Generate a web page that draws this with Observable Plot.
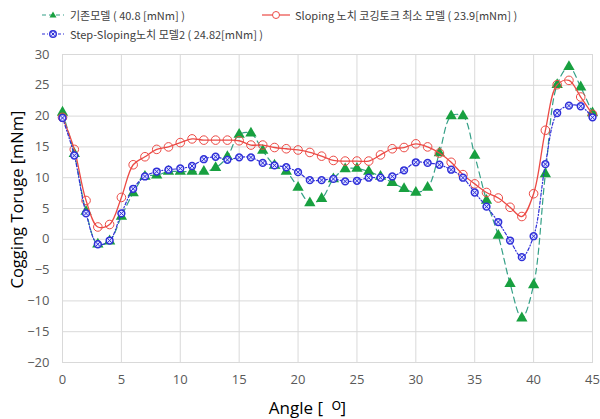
<!DOCTYPE html>
<html>
<head>
<meta charset="utf-8">
<script src="https://cdn.jsdelivr.net/npm/d3@7"></script>
<script src="https://cdn.jsdelivr.net/npm/@observablehq/plot@0.6"></script>
<style>
  body { margin: 0; background: #fff; font-family: "Open Sans", "Noto Sans CJK KR", sans-serif; }
  #wrap { position: relative; width: 600px; height: 419px; }
  #legend { position: relative; width: 600px; height: 44px; font-family: "Noto Sans CJK KR", sans-serif; font-size: 11px; color: #404040; }
  .item { position: absolute; display: flex; align-items: center; white-space: nowrap; }
  .item svg { margin-right: 5px; }
</style>
</head>
<body>
<div id="wrap">
  <div id="legend"></div>
  <div id="chart"></div>
</div>
<script>
const angles = [0,1,2,3,4,5,6,7,8,9,10,11,12,13,14,15,16,17,18,19,20,21,22,23,24,25,26,27,28,29,30,31,32,33,34,35,36,37,38,39,40,41,42,43,44,45];
const seriesNames = ["기존모델 ( 40.8 [mNm] )", "Sloping 노치 코깅토크 최소 모델 ( 23.9[mNm] )", "Step-Sloping노치 모델2 ( 24.82[mNm] )"];
const baseModel = [20.6,13.9,4.5,-0.8,-0.3,3.7,7.5,10.2,10.4,11.0,11.0,11.0,11.0,11.6,13.4,17.0,17.2,14.4,12.0,11.0,8.4,5.9,6.6,9.8,11.4,11.5,11.0,10.2,9.2,8.2,7.6,8.4,14.0,20.0,20.0,13.6,6.3,0.6,-7.2,-12.8,-7.4,10.6,25.1,28.0,24.7,20.5];
const slopingModel = [19.8,14.6,6.3,2.0,2.4,6.8,12.1,13.4,14.6,15.0,15.7,16.3,16.1,16.1,16.1,16.0,15.3,15.3,14.9,14.7,14.5,14.1,13.5,12.8,12.7,12.7,12.7,13.7,14.7,14.9,15.5,15.0,14.0,12.5,10.5,9.0,7.6,6.7,5.2,3.7,7.4,17.7,25.1,25.8,23.1,20.3];
const stepSlopingModel = [19.7,13.6,4.2,-0.8,-0.2,4.2,8.2,10.2,11.0,11.3,11.5,11.9,13.0,13.4,12.9,13.3,13.3,12.4,12.0,11.7,10.9,9.6,9.6,9.8,9.4,9.5,10.0,10.0,10.2,11.2,12.5,12.4,12.1,11.3,10.0,7.6,5.3,2.8,-0.2,-2.9,0.5,12.2,20.5,21.7,21.6,19.8];
const xTicks = [0,5,10,15,20,25,30,35,40,45];
const yTicks = [-20,-15,-10,-5,0,5,10,15,20,25,30];
const xTitle = "Angle [  ᴼ]";
const yTitle = "Cogging Toruge [mNm]";

const green = angles.map((a, i) => ({x: a, y: baseModel[i]}));
const red = angles.map((a, i) => ({x: a, y: slopingModel[i]}));
const blue = angles.map((a, i) => ({x: a, y: stepSlopingModel[i]}));

const cGreenLine = "#35a087", cGreen = "#18a040", cRed = "#ec4a45", cBlue = "#2f2fd8";

// legend
const legend = document.getElementById("legend");
function addItem(left, top, sym, label) {
  const d = document.createElement("div");
  d.className = "item";
  d.style.left = left + "px";
  d.style.top = top + "px";
  d.innerHTML = sym + "<span>" + label + "</span>";
  legend.appendChild(d);
}
const gSym = `<svg width="24" height="12"><line x1="1" y1="6" x2="23" y2="6" stroke="${cGreenLine}" stroke-width="1.2" stroke-dasharray="4,3"/><path d="M12,2.5 L15.5,8.5 L8.5,8.5Z" fill="${cGreen}"/></svg>`;
const rSym = `<svg width="28" height="12"><line x1="0" y1="6" x2="28" y2="6" stroke="${cRed}" stroke-width="1.2"/><circle cx="14" cy="6" r="3.5" fill="white" stroke="${cRed}" stroke-width="1"/></svg>`;
const bSym = `<svg width="24" height="12"><line x1="1" y1="6" x2="23" y2="6" stroke="${cBlue}" stroke-width="1.2" stroke-dasharray="3,2,1,2"/><circle cx="12" cy="6" r="3.3" fill="#dfe2ff" stroke="${cBlue}" stroke-width="1.4"/><path d="M10.3,4.3 L13.7,7.7 M13.7,4.3 L10.3,7.7" stroke="${cBlue}" stroke-width="1"/></svg>`;
addItem(41, 7, gSym, seriesNames[0]);
addItem(262, 7, rSym, seriesNames[1]);
addItem(41, 26, bSym, seriesNames[2]);

const chart = Plot.plot({
  width: 600,
  height: 375,
  marginTop: 10,
  marginBottom: 57,
  marginLeft: 62,
  marginRight: 8,
  style: {fontFamily: "'Open Sans', sans-serif", fontSize: "13px", color: "#595959", background: "white"},
  x: {domain: [0, 45]},
  y: {domain: [-20, 30]},
  marks: [
    Plot.gridX(xTicks, {stroke: "#d9d9d9", strokeOpacity: 1}),
    Plot.gridY(yTicks, {stroke: "#d9d9d9", strokeOpacity: 1}),
    Plot.frame({stroke: "#d9d9d9"}),
    Plot.axisX(xTicks, {tickSize: 0, tickPadding: 12, label: null}),
    Plot.axisY(yTicks, {tickSize: 0, tickPadding: 13, label: null}),
    Plot.text([xTitle], {frameAnchor: "bottom", dx: -20, dy: 46, lineAnchor: "middle", textAnchor: "middle", fontSize: 17, fill: "#000"}),
    Plot.text([yTitle], {frameAnchor: "left", rotate: -90, dx: -45, dy: -9, lineAnchor: "middle", textAnchor: "middle", fontSize: 16.5, fill: "#000"}),
    Plot.line(green, {x: "x", y: "y", curve: "catmull-rom", stroke: cGreenLine, strokeWidth: 1.2, strokeDasharray: "6,4"}),
    Plot.dot(green, {x: "x", y: "y", symbol: "triangle", r: 4.2, fill: cGreen, stroke: "none"}),
    Plot.line(red, {x: "x", y: "y", curve: "catmull-rom", stroke: cRed, strokeWidth: 1.3}),
    Plot.dot(red, {x: "x", y: "y", r: 4.3, fill: "none", stroke: cRed, strokeWidth: 1}),
    Plot.line(blue, {x: "x", y: "y", curve: "catmull-rom", stroke: cBlue, strokeWidth: 1.2, strokeDasharray: "3,2,1,2"}),
    Plot.dot(blue, {x: "x", y: "y", r: 3.4, fill: "#dfe2ff", stroke: cBlue, strokeWidth: 1.5}),
    Plot.dot(blue, {x: "x", y: "y", symbol: "times", r: 2.2, stroke: cBlue, strokeWidth: 1})
  ]
});
document.getElementById("chart").appendChild(chart);
</script>
</body>
</html>
